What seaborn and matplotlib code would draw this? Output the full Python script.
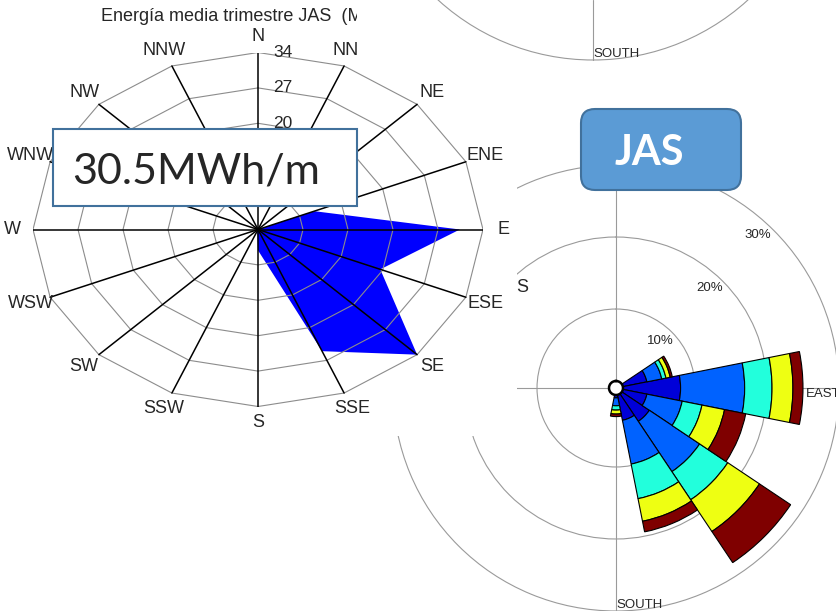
import numpy as np
import pandas as pd
import matplotlib
matplotlib.use("Agg")
import matplotlib.pyplot as plt
from matplotlib.patches import Rectangle, FancyBboxPatch, Circle
import seaborn as sns

# ---------------------------------------------------------------- data
directions = ["N", "NNE", "NE", "ENE", "E", "ESE", "SE", "SSE",
              "S", "SSW", "SW", "WSW", "W", "WNW", "NW", "NNW"]

# mean JAS wave energy per direction (MWh/m)
energy_jas = [0.0, 0.0, 0.0, 9.2, 30.5, 20.0, 34.0, 25.3,
              4.0, 0.3, 0.0, 0.0, 0.0, 0.0, 0.0, 0.0]
energy_ring_max = 34
energy_ring_count = 5
energy_title = "Energía media trimestre JAS  (MWh/m)"
energy_callout = "30.5MWh/m"

# JAS occurrence (%) per direction, split by speed class
freq_class1 = [0, 0, 0, 3.4, 8.0, 3.4, 4.6, 3.6, 0.40, 0, 0, 0, 0, 0, 0, 0]
freq_class2 = [0, 0, 0, 2.1, 8.9, 5.0, 8.4, 6.2, 1.10, 0, 0, 0, 0, 0, 0, 0]
freq_class3 = [0, 0, 0, 0.6, 3.8, 2.8, 4.7, 4.9, 0.60, 0, 0, 0, 0, 0, 0, 0]
freq_class4 = [0, 0, 0, 0.6, 2.9, 3.2, 5.3, 3.2, 0.55, 0, 0, 0, 0, 0, 0, 0]
freq_class5 = [0, 0, 0, 0.3, 1.4, 3.0, 5.2, 1.5, 0.35, 0, 0, 0, 0, 0, 0, 0]
class_colors = ["#0000D8", "#0062FF", "#22FFDC", "#EEFF12", "#7F0000"]
freq_rings = [10, 20, 30]
season_label = "JAS"

# ---------------------------------------------------------------- style
sns.set_style("white")
plt.rcParams["font.family"] = ["Liberation Sans", "DejaVu Sans"]

W, H = 837, 611
fig = plt.figure(figsize=(W / 100, H / 100), dpi=100, facecolor="white")


def px_axes(x0, y0, x1, y1, **kw):
    return fig.add_axes([x0 / W, 1 - y1 / H, (x1 - x0) / W, (y1 - y0) / H], **kw)


def overlay(z):
    ax = fig.add_axes([0, 0, 1, 1], zorder=z)
    ax.set_xlim(0, W)
    ax.set_ylim(H, 0)
    ax.axis("off")
    return ax


bearing = np.deg2rad(np.arange(len(directions)) * 22.5)
grid_grey = "#9a9a9a"

# ---------------------------------------------------------------- wind rose (frequency by speed class)
pct_px, hole = 7.2, 0.97
rmax = freq_rings[-1]
half = (rmax + hole) * pct_px
cx, cy = 616, 388
rose = px_axes(cx - half, cy - half, cx + half, cy + half, projection="polar", zorder=1)
rose.set_theta_zero_location("N")
rose.set_theta_direction(-1)
rose.set_rorigin(-hole)
rose.set_ylim(0, rmax)
rose.set_axisbelow(True)

freq = pd.DataFrame({"dir": directions, "c1": freq_class1, "c2": freq_class2,
                     "c3": freq_class3, "c4": freq_class4, "c5": freq_class5})
palette = sns.color_palette(class_colors)
base = np.zeros(len(directions))
for col, colour in zip(["c1", "c2", "c3", "c4", "c5"], palette):
    h = freq[col].to_numpy(dtype=float)
    m = h > 0
    rose.bar(bearing[m], h[m], width=2 * np.pi / 16, bottom=base[m], color=colour,
             edgecolor="black", linewidth=0.8, align="center")
    base += h

rose.set_yticks(freq_rings[:-1])
rose.set_yticklabels([])
rose.set_xticks(np.deg2rad([0, 90, 180, 270]))
rose.set_xticklabels([])
rose.tick_params(length=0)
rose.grid(True, color=grid_grey, linewidth=0.8)
rose.spines["polar"].set_color(grid_grey)
rose.spines["polar"].set_linewidth(0.8)
rose.spines["inner"].set_color("black")
rose.spines["inner"].set_linewidth(1.8)
for p in freq_rings:
    rose.text(np.deg2rad(43), p - 2, f"{p}%", ha="center", va="center", fontsize=9.5)
rose.text(np.deg2rad(90), 25.4, "EAST", ha="left", va="top", fontsize=9.5)
rose.text(np.pi, 29.2, "SOUTH", ha="left", va="center", fontsize=9.5)

# white backing of the energy panel
bg = overlay(2)
bg.add_patch(Rectangle((0, 0), 517, 436, facecolor="white", edgecolor="none"))

# ---------------------------------------------------------------- energy radar
radar = px_axes(33, 52.5, 483, 406.5, zorder=3)
radar.set_xlim(-energy_ring_max, energy_ring_max)
radar.set_ylim(-energy_ring_max, energy_ring_max)
radar.axis("off")
sx, sy = np.sin(bearing), np.cos(bearing)
e = np.array(energy_jas)
radar.fill(e * sx, e * sy, color="#0000FF", linewidth=0, zorder=1)
ring_vals = [energy_ring_max * k / energy_ring_count for k in range(1, energy_ring_count + 1)]
for r in ring_vals:
    radar.plot(np.append(r * sx, r * sx[0]), np.append(r * sy, r * sy[0]),
               color="#8c8c8c", linewidth=0.8, zorder=2)
# scale values on the three outer rings
for r in ring_vals[2:]:
    radar.text(2.3, r, f"{r:.0f}", ha="left", va="center", fontsize=12.5, zorder=4)
for i in range(len(directions)):
    radar.plot([0, energy_ring_max * sx[i]], [0, energy_ring_max * sy[i]],
               color="black", linewidth=1.1, zorder=3)
lab_r = energy_ring_max * 1.093
for i, d in enumerate(directions):
    radar.text(lab_r * sx[i], lab_r * sy[i], d, ha="center", va="center", fontsize=13)
radar.text(0, 41.0, energy_title, ha="center", va="center", fontsize=13)

# ---------------------------------------------------------------- top layer
top = overlay(4)
# lower edge of the neighbouring rose above
top.add_patch(Rectangle((357, 0), W - 357, 63, facecolor="white", edgecolor="none"))
clip = Rectangle((357, 0), W - 357, 63, transform=top.transData)
arc = Circle((593, -170), 230, fill=False, edgecolor=grid_grey, linewidth=0.8)
top.add_patch(arc)
arc.set_clip_path(clip)
top.plot([593, 593], [0, 60], color=grid_grey, linewidth=0.8)
top.text(593, 54, "SOUTH", ha="left", va="center", fontsize=9.5)

top.text(516, 287, "S", ha="left", va="center", fontsize=13)

# callout boxes
top.add_patch(Rectangle((53, 129), 304, 77, facecolor="white",
                        edgecolor="#41719C", linewidth=1.5))
top.text(72, 183.3, energy_callout, ha="left", va="baseline",
         fontsize=31, family=["Lato", "DejaVu Sans"])
top.add_patch(FancyBboxPatch((581, 109), 160, 81,
                             boxstyle="round,pad=0,rounding_size=14",
                             facecolor="#5B9BD5", edgecolor="#41719C", linewidth=1.5))
top.text(649, 165, season_label, ha="center", va="baseline", fontsize=30,
         fontweight="bold", color="white", family=["Lato", "DejaVu Sans"])

fig.savefig("out.png", dpi=100, facecolor="white")
